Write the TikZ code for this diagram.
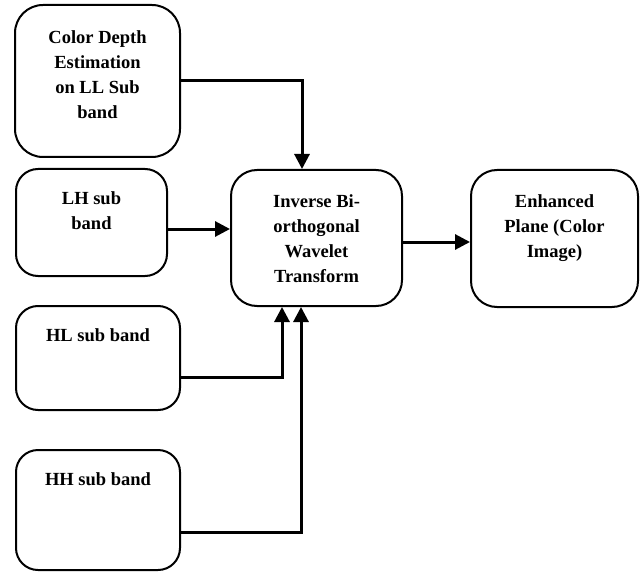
\documentclass[tikz,border=0pt]{standalone}
\usepackage{fontspec}
\setmainfont{Liberation Serif}
\usetikzlibrary{arrows.meta, positioning, calc}

\begin{document}
\begin{tikzpicture}[x=0.5pt, y=-0.5pt,
    block/.style={draw, line width=1pt, rounded corners=11pt, inner sep=0pt},
    blocktext/.style={anchor=north, inner sep=0pt, align=center, yshift=-11.5pt,
        font=\bfseries\fontsize{9.25}{12.5}\selectfont},
    flow/.style={-{Triangle[length=7.5pt, width=7.5pt]}, line width=1.5pt}]
    \useasboundingbox (0,0) rectangle (640,571);

    \node (ll) [block, rounded corners=14pt, minimum width=82.5pt, minimum height=76pt,
        label={[blocktext, yshift=-1.5pt]north:{Color Depth\\Estimation\\on LL Sub\\band}}] at (97.5,81) {};
    \node (lh) [block, minimum width=75.5pt, minimum height=53.5pt,
        label={[blocktext]north:{LH sub\\band}}] at (91.5,222.5) {};
    \node (hl) [block, minimum width=82pt, minimum height=52pt,
        label={[blocktext]north:{HL sub band}}] at (98,358) {};
    \node (hh) [block, minimum width=82pt, minimum height=60pt,
        label={[blocktext]north:{HH sub band}}] at (98,510) {};
    \node (ibwt) [block, rounded corners=13pt, minimum width=85.5pt, minimum height=68pt,
        label={[blocktext, yshift=-1pt]north:{Inverse Bi-\\orthogonal\\Wavelet\\Transform}}] at (316.5,238) {};
    \node (enh) [block, rounded corners=13pt, minimum width=83.5pt, minimum height=68.5pt,
        label={[blocktext, yshift=-1pt]north:{Enhanced\\Plane (Color\\Image)}}] at (554.5,238.5) {};

    \draw [flow] (ll.east) -| ([xshift=-7.25pt]ibwt.north);
    \draw [flow] ([yshift=-3.25pt]lh.east) -- ([yshift=-3.25pt]lh.east -| ibwt.west);
    \draw [flow] ([yshift=-2pt]ibwt.east) -- ([yshift=-2pt]ibwt.east -| enh.west);
    \draw [flow] ([yshift=-9.5pt]hl.east) -| ([xshift=-17.25pt]ibwt.south);
    \draw [flow] ([yshift=-11pt]hh.east) -| ([xshift=-7.75pt]ibwt.south);
\end{tikzpicture}
\end{document}
